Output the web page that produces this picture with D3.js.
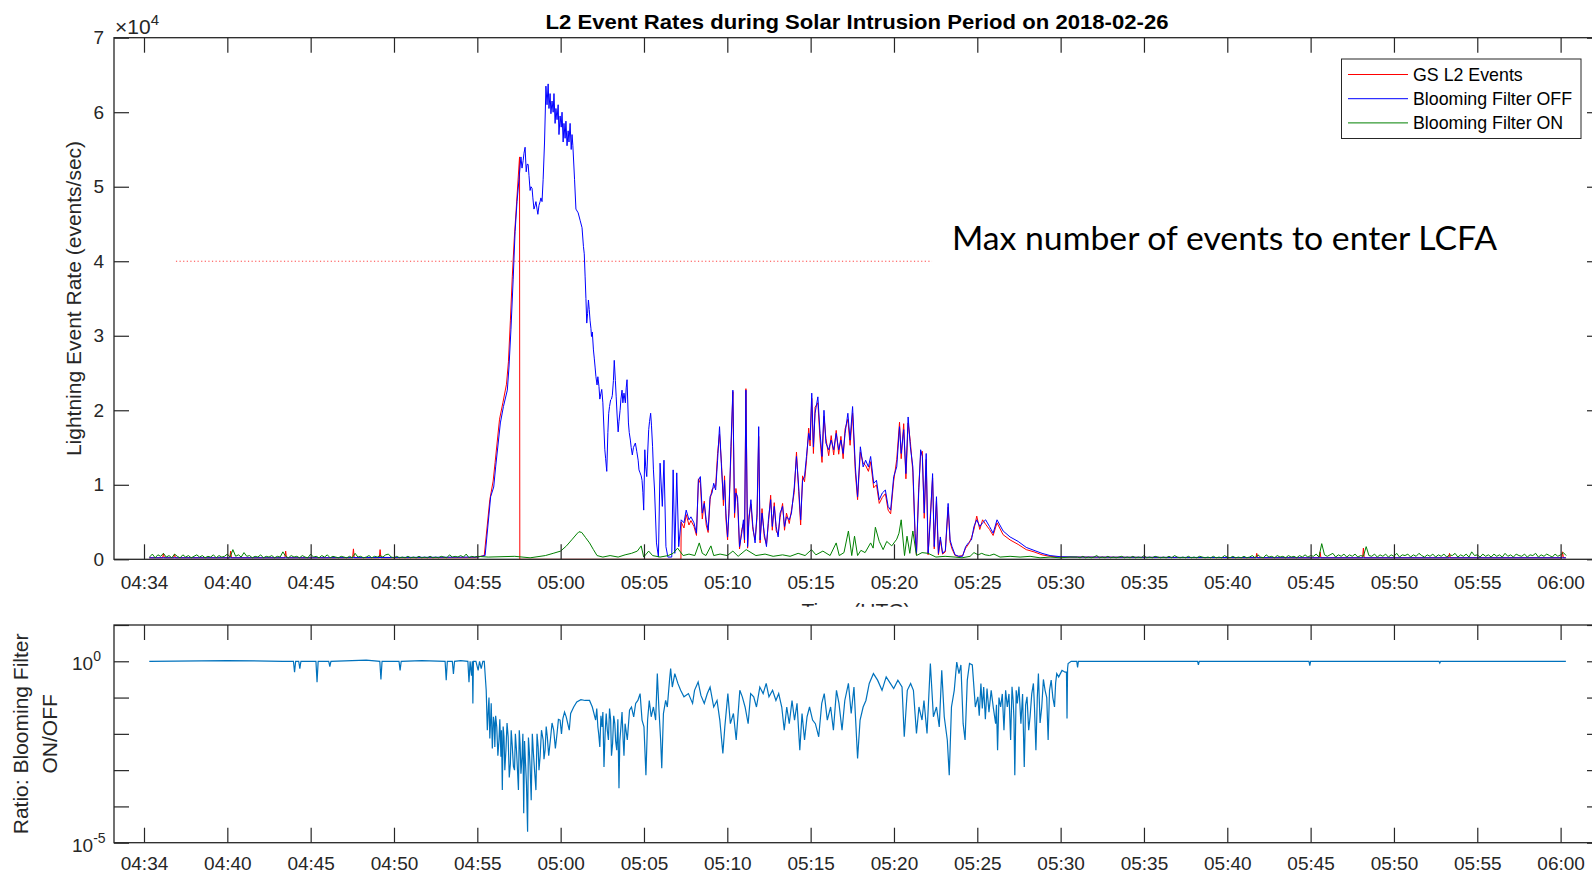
<!DOCTYPE html>
<html>
<head>
<meta charset="utf-8">
<script src="https://cdn.jsdelivr.net/npm/d3@7"></script>
<style>
  body { margin: 0; background: #fff; }
  text { font-family: "Liberation Sans", Arial, Helvetica, sans-serif; fill: #262626; }
</style>
</head>
<body>
<div id="chart"></div>
<script>
// times: seconds after 04:55:00 UTC, rates: thousands of events/sec

const tickSec = [-1200, -900, -600, -300, 0, 300, 600, 900, 1200, 1500, 1800, 2100, 2400, 2700, 3000, 3300, 3600, 3900]
const tickLabels = ['04:34', '04:40', '04:45', '04:50', '04:55', '05:00', '05:05', '05:10', '05:15', '05:20', '05:25', '05:30', '05:35', '05:40', '05:45', '05:50', '05:55', '06:00']
const rateTicks = [0, 10, 20, 30, 40, 50, 60, 70]
const rateTickLabels = ['0', '1', '2', '3', '4', '5', '6', '7']
const ratioTicks = [1e-5, 1e-4, 1e-3, 1e-2, 1e-1, 1e0, 1e1]

const seriesNames = ['GS L2 Events', 'Blooming Filter OFF', 'Blooming Filter ON']
const seriesColors = ['#ff0000', '#0000ff', '#008000']

const maxRate = 40            // LCFA limit, thousands of events/sec
const maxRateSec = [-1085, 1637]

// Blooming filter OFF, up to 05:07
const offEarlySec = [-1181, -600, 0, 28, 48, 59, 66, 83, 94, 108,
  114, 121, 129, 136, 143, 150, 157, 165, 172, 179,
  186, 193, 200, 208, 215, 222, 229, 237, 242, 247,
  251, 255, 258, 262, 265, 269, 273, 276, 280, 283,
  287, 291, 294, 298, 302, 305, 309, 312, 316, 319,
  323, 327, 330, 334, 338, 341, 344, 350, 355, 363,
  370, 377, 382, 388, 394, 400, 406, 411, 418, 424,
  431, 438, 445, 452, 459, 466, 473, 480, 486, 493,
  500, 507, 514, 521, 528, 539, 544, 551, 558, 569,
  579, 586, 593, 599, 603, 610, 617, 624, 631, 638,
  645, 652, 658, 666, 672, 679, 686, 700, 705, 711,
  718, 725]
const offEarlyRate = [0.2, 0.2, 0.3, 0.5, 8.4, 9.7, 12.4, 18.3, 20.5, 22.7,
  25.8, 30.8, 37.5, 44, 48, 51, 54, 53.5, 55.3, 53,
  51.5, 50, 48.5, 47.5, 47, 47.5, 48.5, 51, 56, 63.5,
  61.0, 63.8, 60.5, 62.5, 59.8, 61.5, 60.0, 62.5, 58.5, 60.5,
  59.0, 61, 57.0, 59.5, 58.0, 60, 56.0, 58.5, 56.5, 58.8,
  55.5, 57.5, 56.0, 58.5, 55.0, 57, 55.5, 51, 47, 46.5,
  45.5, 44.5, 42, 38, 31.7, 34.8, 32, 29.9, 28.1, 25.8,
  23.4, 23.2, 22.3, 21, 14.7, 11.8, 19.6, 21.4, 22, 26.7,
  21.8, 17.1, 20, 22.7, 22.3, 24.1, 18.3, 16, 14, 15.6,
  13.3, 11.6, 10.6, 6.6, 14.7, 11.1, 17.4, 19.6, 15.1, 9.3,
  2.2, 0.3, 12.9, 7.1, 13.3, 1.7, 0.3, 0.3, 12, 0.8,
  11.6, 1.7]
// short-period jitter of the filter OFF rate between the samples above
const offJitterSec = [161, 168, 176, 183, 190, 197, 204, 211, 218, 226,
  233, 385, 391, 397, 403, 409, 414, 421, 427, 434,
  441, 448, 462, 470, 476, 483, 490, 497, 503, 510,
  517, 524, 533, 536, 547, 554, 562, 574, 582, 590,
  596, 606, 613, 620, 627, 634]
const offJitterRate = [52.5, 54.5, 52, 53, 49.5, 49.8, 47, 48, 46.3, 48,
  48, 41, 35, 33, 33.5, 31, 30.5, 27, 24.5, 24.5,
  21.5, 22.8, 13.5, 17, 20.5, 21.5, 24, 24, 19.5, 18.5,
  21.5, 21, 21, 23, 17, 15, 15, 14.5, 12, 11.2,
  9, 12.5, 14, 18.5, 18, 12]

// 05:07 - 05:30, shared sample times for GS and filter OFF
const busySec = [734, 744, 752, 762, 769, 780, 789, 796, 803, 810,
  817, 824, 831, 838, 845, 851, 858, 865, 872, 879,
  886, 890, 895, 901, 906, 913, 920, 926, 931, 937,
  944, 952, 958, 962, 967, 973, 978, 985, 992, 1000,
  1007, 1013, 1018, 1025, 1033, 1041, 1048, 1056, 1062, 1069,
  1076, 1083, 1090, 1099, 1106, 1113, 1123, 1131, 1141, 1149,
  1157, 1164, 1171, 1178, 1185, 1193, 1198, 1204, 1210, 1216,
  1226, 1234, 1241, 1248, 1255, 1265, 1274, 1283, 1292, 1301,
  1309, 1317, 1324, 1334, 1342, 1351, 1361, 1369, 1379, 1389,
  1398, 1408, 1416, 1427, 1437, 1447, 1458, 1469, 1479, 1488,
  1499, 1510, 1520, 1526, 1535, 1543, 1551, 1559, 1568, 1576,
  1581, 1589, 1596, 1602, 1609, 1616, 1623, 1631, 1639, 1645,
  1653, 1660, 1667, 1675, 1685, 1695, 1702, 1709, 1720, 1733,
  1747, 1758, 1768, 1779, 1788, 1798, 1809, 1819, 1830, 1844,
  1857, 1871, 1893, 1918, 1947, 1976, 2004, 2033, 2062, 2098]
const offBusyRate = [5.3, 4.9, 6.6, 5.3, 5.7, 4.9, 3.5, 10.6, 11.1, 6.2,
  7.5, 5.3, 3.9, 8.4, 8.9, 10.2, 9.3, 13.3, 17.8, 12.4,
  8.0, 10.6, 6.2, 3.0, 6.2, 15.1, 22.7, 6.2, 8.9, 8.4,
  1.7, 3.5, 5.3, 2.6, 22.7, 1.7, 5.3, 8.0, 4.4, 2.2,
  6.2, 17.8, 2.6, 6.2, 3.5, 1.7, 5.3, 8.0, 4.4, 7.1,
  4.4, 3.0, 6.2, 7.1, 4.4, 5.7, 5.3, 6.2, 9.7, 13.8,
  9.7, 5.3, 10.6, 11.1, 13.8, 16.9, 16.0, 22.3, 15.1, 19.6,
  21.8, 16.9, 13.8, 20.0, 15.6, 14.7, 16.0, 14.7, 16.9, 14.7,
  16.0, 14.2, 16.9, 19.6, 16.0, 20.5, 12.4, 8.4, 15.1, 12.4,
  13.3, 12.4, 13.8, 10.2, 10.6, 8.0, 8.9, 9.3, 7.1, 6.6,
  11.1, 12.4, 17.8, 14.2, 17.4, 11.5, 19.1, 15.1, 12.4, 3.5,
  0.8, 8.9, 14.7, 13.8, 6.2, 14.2, 0.8, 5.3, 11.5, 1.7,
  8.4, 0.8, 3.0, 0.8, 1.2, 7.5, 2.6, 1.7, 0.6, 0.4,
  0.4, 1.7, 2.2, 2.6, 4.4, 5.3, 4.4, 4.9, 5.3, 4.4,
  3.5, 5.3, 3.8, 3.0, 2.4, 1.6, 1.2, 0.8, 0.5, 0.35]
const gsBusyRate = [5.0, 4.2, 6.0, 4.6, 5.2, 4.4, 3.2, 10.8, 10.2, 5.4,
  7.8, 4.6, 3.6, 8.0, 9.4, 9.6, 9.8, 14.2, 16.8, 12.9,
  7.2, 11.2, 5.4, 2.6, 6.8, 14.0, 22.5, 5.6, 9.5, 7.6,
  1.4, 4.0, 4.8, 2.2, 22.9, 1.5, 5.8, 7.4, 4.0, 2.6,
  5.6, 16.5, 2.2, 6.8, 3.0, 2.0, 4.8, 8.6, 3.9, 7.6,
  3.8, 3.3, 5.6, 7.5, 3.9, 6.2, 4.8, 6.6, 9.0, 14.4,
  9.1, 4.6, 11.2, 10.4, 13.2, 17.6, 15.2, 21.6, 14.2, 20.4,
  21.0, 16.0, 13.0, 19.2, 16.2, 13.9, 16.6, 14.0, 17.3, 14.1,
  16.5, 13.5, 17.5, 18.8, 15.3, 19.6, 11.6, 8.0, 14.4, 12.9,
  12.6, 11.8, 13.1, 9.6, 10.0, 7.5, 8.3, 8.8, 6.6, 6.1,
  10.5, 13.4, 18.4, 13.5, 18.2, 10.8, 18.3, 15.8, 11.7, 3.0,
  0.6, 9.6, 14.0, 14.5, 5.5, 13.4, 0.6, 5.9, 10.9, 1.4,
  7.8, 0.6, 2.6, 0.7, 1.0, 7.0, 2.3, 1.4, 0.5, 0.4,
  0.5, 1.5, 2.0, 2.9, 4.0, 5.8, 4.0, 5.3, 4.7, 4.0,
  3.2, 4.9, 3.3, 2.6, 2.0, 1.3, 1.0, 0.6, 0.4, 0.3]

const offEndSec = [2160, 3000, 3919]
const offEndRate = [0.3, 0.2, 0.2]

// GS L2 events before 05:07 (drops out at 04:57:33) and after 05:30
const gsEarlySec = [-1181, -1133, -1130, -1127, -1093, -1090, -1087, -891, -888, -885,
  -693, -690, -687, -449, -446, -443, -353, -350, -347, -3,
  0, 25, 45, 57, 64, 80, 92, 105, 112, 119,
  126, 133, 140, 146, 152, 153, 733]
const gsEarlyRate = [0.2, 0.2, 0.8, 0.2, 0.2, 0.7, 0.2, 0.2, 1.1, 0.2,
  0.2, 1.1, 0.2, 0.2, 1.4, 0.2, 0.2, 1.3, 0.2, 0.2,
  0.3, 0.5, 8.0, 10.5, 13, 18.8, 21, 23.5, 26.5, 32,
  38, 43, 47, 50.5, 54, 0, 0]
const gsEndSec = [2160, 2803, 2806, 2809, 3031, 3034, 3037, 3187, 3190, 3193, 3497, 3500, 3503, 3904, 3907, 3910, 3919]
const gsEndRate = [0.3, 0.2, 0.8, 0.2, 0.2, 1.0, 0.2, 0.2, 1.5, 0.2, 0.2, 0.8, 0.2, 0.2, 1.0, 0.2, 0.2]

// Blooming filter ON: quiet periods sampled every 10 s
const quietStep = 10
const onPreStart = -1180
const onPreRate = [0.3, 0.7, 0.2, 0.6, 0.4, 0.8, 0.3, 0.5, 0.2, 0.7,
  0.4, 0.2, 0.6, 0.3, 0.5, 0.2, 0.4, 0.6, 0.3, 0.5,
  0.2, 0.4, 0.3, 0.6, 0.2, 0.5, 0.3, 0.4, 0.7, 0.3,
  1.3, 0.4, 0.6, 0.3, 0.9, 0.4, 0.5, 0.2, 0.4, 0.3,
  0.6, 0.2, 0.4, 0.3, 0.5, 0.2, 0.4, 0.3, 1.0, 0.4,
  0.2, 0.5, 0.3, 0.4, 0.2, 0.5, 0.3, 0.2, 0.7, 0.3,
  0.4, 0.2, 0.5, 0.3, 0.6, 0.2, 0.4, 0.3, 0.2, 0.4,
  0.3, 0.2, 0.4, 0.2, 0.8, 0.3, 0.4, 0.2, 0.3, 0.5,
  0.2, 0.4, 0.3, 0.5, 0.3, 0.6, 0.7, 0.3, 0.2, 0.4,
  0.2, 0.3, 0.2, 0.4, 0.2, 0.3, 0.2, 0.4, 0.2, 0.3,
  0.2, 0.4, 0.2, 0.3, 0.2, 0.4, 0.3, 0.2, 0.6, 0.3,
  0.4, 0.3, 0.5, 0.3, 0.7, 0.2, 0.4, 0.3, 0.4]
const onSec = [39, 135, 190, 245, 273, 300, 321, 342, 358, 366,
  376, 390, 404, 418, 431, 452, 478, 507, 532, 555,
  576, 590, 599, 617, 631, 658, 687, 705, 721, 741,
  762, 783, 799, 810, 823, 841, 851, 874, 900, 920,
  939, 968, 1003, 1036, 1065, 1099, 1126, 1155, 1180, 1203,
  1219, 1244, 1270, 1292, 1303, 1320, 1336, 1348, 1358, 1369,
  1381, 1396, 1416, 1425, 1433, 1447, 1461, 1474, 1492, 1510,
  1518, 1526, 1538, 1547, 1557, 1568, 1581, 1601, 1623, 1651,
  1684, 1720, 1745, 1774, 1788, 1803, 1816, 1828, 1844, 1860,
  1882, 1918, 1954, 1990, 2026, 2062, 2098, 2134]
const onRate = [0.3, 0.4, 0.2, 0.5, 0.8, 1.1, 1.8, 2.7, 3.4, 3.7,
  3.6, 2.9, 2.2, 1.3, 0.5, 0.3, 0.5, 0.3, 0.6, 0.8,
  1.1, 1.8, 0.3, 1.1, 0.5, 0.3, 0.5, 0.8, 1.5, 0.5,
  0.7, 0.5, 2.2, 0.8, 0.5, 1.8, 0.5, 0.7, 0.5, 1.1,
  0.4, 1.3, 0.5, 0.7, 0.4, 0.6, 0.4, 0.8, 0.5, 1.3,
  0.6, 1.1, 0.5, 2.2, 0.5, 0.9, 3.8, 0.5, 3.1, 0.5,
  1.2, 0.9, 2.2, 1.5, 4.3, 2.4, 1.3, 2.4, 1.8, 2.7,
  3.5, 5.3, 0.5, 3.1, 0.8, 3.8, 0.5, 0.9, 0.8, 0.3,
  0.4, 0.3, 0.2, 0.4, 0.9, 0.6, 0.8, 0.6, 0.5, 0.7,
  0.3, 0.4, 0.3, 0.4, 0.2, 0.3, 0.2, 0.3]
const onPostStart = 2160
const onPostRate = [0.3, 0.2, 0.4, 0.2, 0.3, 0.2, 0.3, 0.5, 0.2, 0.3,
  0.2, 0.4, 0.2, 0.3, 0.2, 0.3, 0.4, 0.2, 0.3, 0.2,
  0.4, 0.2, 0.3, 0.2, 0.5, 0.2, 0.3, 0.2, 0.4, 0.3,
  0.2, 0.3, 0.2, 0.4, 0.2, 0.5, 0.3, 0.2, 0.3, 0.2,
  0.4, 0.2, 0.3, 0.2, 0.4, 0.3, 0.2, 0.3, 0.2, 0.4,
  0.2, 0.3, 0.2, 0.5, 0.3, 0.2, 0.4, 0.2, 0.3, 0.2,
  0.4, 0.2, 0.3, 0.5, 0.2, 0.6, 0.3, 0.2, 0.6, 0.3,
  0.4, 0.2, 0.5, 0.3, 0.4, 0.2, 0.5, 0.3, 0.4, 0.2,
  0.5, 0.3, 0.6, 0.3, 0.5, 0.4, 0.7, 0.3, 2.1, 0.6,
  0.4, 0.6, 0.8, 0.3, 0.6, 0.4, 0.7, 0.3, 0.6, 0.4,
  0.7, 0.3, 0.5, 0.4, 1.7, 0.5, 0.4, 0.7, 0.3, 0.6,
  0.4, 0.7, 0.3, 0.6, 0.4, 0.8, 0.3, 0.6, 0.5, 0.7,
  0.3, 0.6, 0.4, 0.8, 0.5, 0.3, 0.6, 0.4, 0.7, 0.3,
  0.6, 0.4, 0.7, 0.3, 0.6, 0.5, 0.8, 0.3, 0.6, 0.4,
  0.7, 0.3, 1.0, 0.5, 0.6, 0.3, 0.7, 0.4, 0.6, 0.3,
  0.7, 0.4, 0.6, 0.3, 0.8, 0.4, 0.6, 0.3, 0.7, 0.5,
  0.4, 0.7, 0.3, 0.6, 0.5, 0.8, 0.3, 0.6, 0.4, 0.7,
  0.5, 0.3, 0.7, 0.4, 0.6, 0.9, 0.5]

// ON/OFF ratio, stored as log10
const ratioSec = [-1181, -900, -700, -662, -658, -654, -643, -639, -635, -581,
  -577, -573, -535, -531, -527, -400, -351, -347, -343, -282,
  -278, -274, -200, -116, -112, -108, -90, -86, -82, -60,
  -34, -30, -26, -21, -18, -16, -14, -5, 3, 8,
  14, 20,
  25, 32, 40, 45, 50, 58, 63, 70, 78, 85,
  90, 96, 103, 111, 119, 126, 134, 141, 148, 154,
  161, 167, 173, 181, 187, 194, 202, 211, 219, 226,
  237, 244, 252, 263, 275, 287, 298, 308, 320, 331,
  336, 347, 358, 373, 388, 404, 414, 426, 434, 441,
  449, 456, 464, 472, 480, 487, 495, 502, 510, 517,
  525, 532, 540, 548, 555, 563, 570, 578, 586, 593,
  600, 607, 613, 619, 626, 634, 642, 648, 654, 660,
  664, 670, 678, 684, 692, 696, 702, 711, 722, 732,
  744, 760, 775, 782, 795, 805, 817, 828, 838, 851,
  863, 873, 884, 891, 902, 911, 922, 932, 945, 954,
  964, 975, 984, 995, 1005, 1017, 1029, 1040, 1050, 1063,
  1075, 1085, 1096, 1105, 1114, 1123, 1133, 1142, 1151, 1161,
  1169, 1178, 1187, 1196, 1207, 1217, 1229, 1240, 1249, 1260,
  1272, 1282, 1293, 1302, 1313, 1323, 1336, 1346, 1356, 1369,
  1378, 1389, 1399, 1411, 1426, 1441, 1457, 1472, 1487, 1499,
  1514, 1529, 1537, 1548, 1560, 1570, 1581, 1590, 1601, 1608,
  1619, 1631, 1642, 1653, 1663, 1672, 1681, 1692, 1699, 1707,
  1717, 1726, 1734, 1741, 1749, 1756, 1764, 1772, 1782, 1793,
  1802, 1813, 1823, 1835, 1850, 1866, 1873, 1884, 1896, 1908,
  1920, 1929, 1935, 1944, 1957, 1969, 1979, 1990, 2002, 2011,
  2020, 2032, 2044, 2055, 2066, 2078, 2086, 2093, 2105, 2116,
  2121, 2123, 2125, 2127, 2138, 2158, 2161, 2164, 2593, 2596,
  2599, 2994, 2997, 3000, 3462, 3465, 3468, 3919]
const ratioLog = [0, 0.02, 0, 0, -0.3, 0, 0, -0.2, 0, 0,
  -0.58, 0, 0, -0.15, 0, 0.03, 0, -0.5, 0, 0,
  -0.25, 0, 0.02, 0, -0.52, 0, 0, -0.35, 0, 0.02,
  0, -0.58, 0, -0.4, 0, -1.16, 0, 0, -0.25, 0,
  -0.2, 0,
  0, -0.8, -1.26, -2.13, -1.16, -1.53, -2.36, -1.81, -2.17, -2.63,
  -3.55, -2.08, -2.45, -2.08, -2.82, -2.36, -3.0, -2.45, -3.55, -2.27,
  -2.63, -4.19, -2.72, -4.7, -2.45, -3.83, -2.54, -3.55, -2.36, -2.63,
  -2.17, -2.45, -2.08, -2.17, -1.9, -1.99, -1.62, -1.58, -1.53, -1.9,
  -1.44, -1.26, -1.12, -1.06, -1.08, -1.08, -1.26, -1.62, -1.81, -2.36,
  -1.81, -2.91, -1.44, -2.17, -1.62, -2.27, -1.72, -2.45, -3.5, -1.81,
  -2.17, -1.72, -2.17, -1.35, -1.26, -1.53, -1.16, -1.08, -0.89, -1.62,
  -1.81, -3.14, -1.62, -1.08, -1.53, -1.26, -1.62, -0.34, -1.35, -2.17,
  -2.95, -1.44, -1.08, -1.26, -0.52, -0.2, -0.71, -0.34, -0.61, -0.8,
  -0.98, -0.89, -1.16, -0.8, -0.57, -0.94, -1.16, -0.89, -0.71, -1.26,
  -1.08, -1.62, -2.54, -1.81, -0.89, -1.72, -1.44, -2.17, -0.8, -0.98,
  -1.26, -1.72, -0.89, -0.98, -1.26, -0.71, -0.89, -0.61, -0.98, -0.8,
  -1.08, -0.89, -1.26, -1.9, -1.26, -1.72, -1.08, -1.62, -1.16, -2.45,
  -1.44, -2.17, -1.53, -1.26, -1.62, -1.72, -2.08, -1.16, -0.89, -1.62,
  -1.26, -1.9, -0.8, -1.16, -1.9, -1.08, -0.61, -1.44, -0.71, -2.68,
  -1.62, -1.26, -1.08, -0.61, -0.34, -0.52, -0.8, -0.43, -0.61, -0.75,
  -0.52, -0.71, -2.08, -0.8, -0.61, -0.8, -1.99, -1.26, -1.62, -1.08,
  -1.99, -0.06, -1.53, -1.26, -1.81, -0.25, -1.53, -2.17, -3.14, -1.26,
  -0.8, -0.02, -0.34, -0.1, -1.72, -2.17, -0.52, -0.06, -0.1, -1.26,
  -0.98, -0.61, -0.71, -0.75, -0.8, -1.72, -2.45, -1.26, -1.9, -1.26,
  -2.17, -1.08, -3.14, -1.16, -1.72, -2.91, -0.98, -1.53, -0.61, -2.45,
  -0.34, -1.26, -0.8, -2.17, -0.52, -1.26, -0.34, -0.43, -0.25, -0.3,
  -0.3, -1.58, -0.2, -0.06, 0, 0, -0.17, 0, 0, -0.1,
  0, 0, -0.12, 0, 0, -0.05, 0, 0]
// extra ratio samples in the densest stretches (04:55-05:00, 05:02-05:04, 05:25-05:30)
const ratioJitterSec = [36, 42, 48, 54, 61, 66, 74, 81, 87, 93,
  99, 107, 115, 122, 130, 137, 144, 151, 157, 164,
  170, 177, 184, 190, 198, 206, 215, 222, 231, 240,
  248, 257, 269, 281, 292, 303, 314, 430, 437, 445,
  452, 460, 468, 476, 483, 491, 498, 506, 513, 521,
  528, 1807, 1818, 1829, 1842, 1858, 1869, 1878, 1890, 1902,
  1914, 1925, 1932, 1940, 1950, 1963, 1974, 1985, 1996, 2006,
  2016, 2026, 2038, 2050, 2060, 2072, 2082]
const ratioJitterLog = [-1.9, -1.0, -1.6, -2.4, -1.7, -1.5, -2.6, -1.6, -1.9, -1.8,
  -3.0, -1.7, -3.2, -1.9, -2.9, -2.0, -2.9, -1.9, -3.1, -2.0,
  -2.2, -3.4, -2.1, -2.9, -2.0, -3.0, -2.0, -3.0, -1.9, -2.7,
  -1.8, -2.6, -1.7, -2.4, -1.6, -2.0, -1.4, -1.3, -2.0, -1.5,
  -1.4, -2.0, -1.9, -1.3, -2.6, -1.5, -2.2, -1.6, -2.2, -1.4,
  -2.6, -1.5, -1.3, -1.6, -1.4, -1.3, -1.2, -1.0, -0.9, -0.8,
  -0.9, -0.7, -1.6, -0.8, -0.7, -0.9, -1.2, -1.9, -0.9, -1.3,
  -1.0, -1.7, -0.5, -1.0, -0.8, -1.0, -0.6]

init()

function init(){
    const W = 1592, H = 874
    const p1 = {left: 114, right: 1602, top: 37.7, bottom: 559.3}
    const p2 = {left: 114, right: 1602, top: 625, bottom: 842.7}
    const axisColor = '#262626'
    const tickLen = 15

    const pts = (ts, vs) => ts.map((t, i) => [t, vs[i]])
    const byTime = (a, b) => a[0] - b[0]

    const offData = pts(offEarlySec, offEarlyRate).concat(pts(offJitterSec, offJitterRate)).sort(byTime)
        .concat(pts(busySec, offBusyRate), pts(offEndSec, offEndRate))
    const gsData = pts(gsEarlySec, gsEarlyRate).concat(pts(busySec, gsBusyRate), pts(gsEndSec, gsEndRate))
    const onData = pts(onPreRate.map((v, i) => onPreStart + i * quietStep), onPreRate)
        .concat(pts(onSec, onRate), pts(onPostRate.map((v, i) => onPostStart + i * quietStep), onPostRate))
    const ratioData = pts(ratioSec, ratioLog).concat(pts(ratioJitterSec, ratioJitterLog))
        .sort(byTime).map(d => [d[0], Math.pow(10, d[1])])

    let svg = d3.select('#chart')
                .append('svg')
                .attr('width', W)
                .attr('height', H)
                .style('display', 'block')

    const x = d3.scaleLinear().domain([-1308, 4049]).range([p1.left, p1.right])
    const y = d3.scaleLinear().domain([0, 70]).range([p1.bottom, p1.top])
    const yR = d3.scaleLog().domain([1e-5, 1e1]).range([p2.bottom, p2.top])

    const defs = svg.append('defs')
    defs.append('clipPath').attr('id', 'clip1')
        .append('rect').attr('x', p1.left).attr('y', p1.top)
        .attr('width', p1.right - p1.left).attr('height', p1.bottom - p1.top)
    defs.append('clipPath').attr('id', 'clip2')
        .append('rect').attr('x', p2.left).attr('y', p2.top)
        .attr('width', p2.right - p2.left).attr('height', p2.bottom - p2.top)

    function styleAxis(g, size){
        g.attr('font-family', null).attr('font-size', null).attr('color', axisColor)
        g.select('.domain').remove()
        g.selectAll('line').attr('stroke-width', 1.2)
        g.selectAll('text').style('font-size', size + 'px')
    }

    // ---- upper panel ----
    const line1 = d3.line().x(d => x(d[0])).y(d => y(d[1]))
    const data1 = svg.append('g').attr('clip-path', 'url(#clip1)')

    data1.append('path').datum(gsData)
        .attr('d', line1).attr('fill', 'none')
        .attr('stroke', seriesColors[0]).attr('stroke-width', 1)
    data1.append('path').datum(offData)
        .attr('d', line1).attr('fill', 'none')
        .attr('stroke', seriesColors[1]).attr('stroke-width', 1)
    data1.append('path').datum(onData)
        .attr('d', line1).attr('fill', 'none')
        .attr('stroke', seriesColors[2]).attr('stroke-width', 1)

    data1.append('line')
        .attr('x1', x(maxRateSec[0])).attr('x2', x(maxRateSec[1]))
        .attr('y1', y(maxRate)).attr('y2', y(maxRate))
        .attr('stroke', '#ff0000').attr('stroke-opacity', 0.75)
        .attr('stroke-width', 1).attr('stroke-dasharray', '1.2,2.4')

    svg.append('g').attr('transform', `translate(0,${p1.bottom})`)
        .call(d3.axisBottom(x).tickValues(tickSec).tickFormat((d, i) => tickLabels[i])
            .tickSizeInner(-tickLen).tickSizeOuter(0).tickPadding(15.8))
        .call(g => styleAxis(g, 19))
    svg.append('g').attr('transform', `translate(0,${p1.top})`)
        .call(d3.axisTop(x).tickValues(tickSec).tickFormat('')
            .tickSizeInner(-tickLen).tickSizeOuter(0))
        .call(g => styleAxis(g, 19))
    svg.append('g').attr('transform', `translate(${p1.left},0)`)
        .call(d3.axisLeft(y).tickValues(rateTicks).tickFormat((d, i) => rateTickLabels[i])
            .tickSizeInner(-tickLen).tickSizeOuter(0).tickPadding(10))
        .call(g => styleAxis(g, 19))
    svg.append('g').attr('transform', `translate(${p1.right},0)`)
        .call(d3.axisRight(y).tickValues(rateTicks).tickFormat('')
            .tickSizeInner(-tickLen).tickSizeOuter(0))
        .call(g => styleAxis(g, 19))

    svg.append('rect')
        .attr('x', p1.left).attr('y', p1.top)
        .attr('width', p1.right - p1.left).attr('height', p1.bottom - p1.top)
        .attr('fill', 'none').attr('stroke', axisColor).attr('stroke-width', 1.3)

    // exponent label
    let expo = svg.append('text').attr('x', p1.left + 1).attr('y', 33.5).style('font-size', '21px')
    expo.append('tspan').text('\u00d710')
    expo.append('tspan').attr('dy', -9).style('font-size', '15px').text('4')

    svg.append('text')
        .attr('x', 857).attr('y', 28.5)
        .attr('text-anchor', 'middle')
        .attr('textLength', 623).attr('lengthAdjust', 'spacingAndGlyphs')
        .style('font-size', '21px').style('font-weight', 'bold').style('fill', '#000')
        .text('L2 Event Rates during Solar Intrusion Period on 2018-02-26')

    svg.append('text')
        .attr('transform', `translate(81,${(p1.top + p1.bottom) / 2}) rotate(-90)`)
        .attr('text-anchor', 'middle')
        .style('font-size', '21px')
        .text('Lightning Event Rate (events/sec)')

    svg.append('text')
        .attr('x', 952).attr('y', 250)
        .attr('textLength', 545).attr('lengthAdjust', 'spacingAndGlyphs')
        .style('font-family', 'Lato, "Open Sans", sans-serif')
        .style('font-size', '33px').style('fill', '#000')
        .text('Max number of events to enter LCFA')

    // legend
    let legend = svg.append('g')
    legend.append('rect')
        .attr('x', 1341.5).attr('y', 59).attr('width', 239.5).attr('height', 79.5)
        .attr('fill', '#fff').attr('stroke', axisColor).attr('stroke-width', 1)
    seriesNames.forEach((name, i) => {
        const ly = 74.5 + i * 24.2
        legend.append('line')
            .attr('x1', 1348).attr('x2', 1408).attr('y1', ly).attr('y2', ly)
            .attr('stroke', seriesColors[i]).attr('stroke-width', 1)
        legend.append('text')
            .attr('x', 1413).attr('y', ly + 6)
            .style('font-size', '17.8px').style('fill', '#000')
            .text(name)
    })

    // x label, partly hidden behind the lower panel
    svg.append('text')
        .attr('x', 856).attr('y', 618)
        .attr('text-anchor', 'middle')
        .style('font-size', '21px')
        .text('Time (UTC)')
    svg.append('rect')
        .attr('x', 0).attr('y', 606.8).attr('width', W).attr('height', 17.6)
        .attr('fill', '#fff')

    // ---- lower panel ----
    const line2 = d3.line().x(d => x(d[0])).y(d => yR(d[1]))
    svg.append('g').attr('clip-path', 'url(#clip2)')
        .append('path').datum(ratioData)
        .attr('d', line2).attr('fill', 'none')
        .attr('stroke', '#0072bd').attr('stroke-width', 1.2)

    svg.append('g').attr('transform', `translate(0,${p2.bottom})`)
        .call(d3.axisBottom(x).tickValues(tickSec).tickFormat((d, i) => tickLabels[i])
            .tickSizeInner(-tickLen).tickSizeOuter(0).tickPadding(13.5))
        .call(g => styleAxis(g, 19))
    svg.append('g').attr('transform', `translate(0,${p2.top})`)
        .call(d3.axisTop(x).tickValues(tickSec).tickFormat('')
            .tickSizeInner(-tickLen).tickSizeOuter(0))
        .call(g => styleAxis(g, 19))
    svg.append('g').attr('transform', `translate(${p2.left},0)`)
        .call(d3.axisLeft(yR).tickValues(ratioTicks).tickFormat('')
            .tickSizeInner(-tickLen).tickSizeOuter(0))
        .call(g => styleAxis(g, 19))
    svg.append('g').attr('transform', `translate(${p2.right},0)`)
        .call(d3.axisRight(yR).tickValues(ratioTicks).tickFormat('')
            .tickSizeInner(-tickLen).tickSizeOuter(0))
        .call(g => styleAxis(g, 19))

    ;[[1e0, '0'], [1e-5, '-5']].forEach(([v, e]) => {
        let t = svg.append('text').attr('x', 72).attr('y', yR(v) + 9).style('font-size', '19px')
        t.append('tspan').text('10')
        t.append('tspan').attr('dy', -9).style('font-size', '14px').text(e)
    })

    svg.append('rect')
        .attr('x', p2.left).attr('y', p2.top)
        .attr('width', p2.right - p2.left).attr('height', p2.bottom - p2.top)
        .attr('fill', 'none').attr('stroke', axisColor).attr('stroke-width', 1.3)

    const midR = (p2.top + p2.bottom) / 2
    svg.append('text')
        .attr('transform', `translate(27.5,${midR}) rotate(-90)`)
        .attr('text-anchor', 'middle').style('font-size', '21px')
        .text('Ratio: Blooming Filter')
    svg.append('text')
        .attr('transform', `translate(57,${midR}) rotate(-90)`)
        .attr('text-anchor', 'middle').style('font-size', '21px')
        .text('ON/OFF')
}
</script>
</body>
</html>
